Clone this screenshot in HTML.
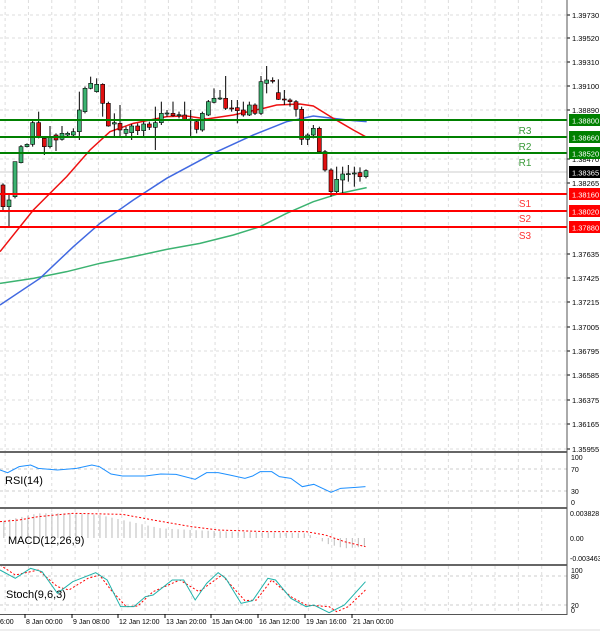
<!DOCTYPE html>
<html><head><meta charset="utf-8"><style>
html,body{margin:0;padding:0;background:#fff;}
svg{display:block;font-family:"Liberation Sans",sans-serif;}
</style></head><body>
<svg id="s" width="600" height="631" xmlns="http://www.w3.org/2000/svg"></svg>
<script>
const s=document.getElementById('s');let h='';
function L(x1,y1,x2,y2,c,w,d){h+=`<line x1="${x1}" y1="${y1}" x2="${x2}" y2="${y2}" stroke="${c}" stroke-width="${w||1}" ${d?`stroke-dasharray="${d}"`:''}/>`;}
function T(x,y,t,sz,c,a){h+=`<text x="${x}" y="${y}" font-size="${sz}" fill="${c||'#000'}" ${a?`text-anchor="${a}"`:''}>${t}</text>`;}
function P(pts,c,w,d){h+=`<polyline fill="none" points="${pts.map(p=>p.join(',')).join(' ')}" stroke="${c}" stroke-width="${w}" ${d?`stroke-dasharray="${d}"`:''}/>`;}
const R=567;
for(let x=541.7;x>0;x-=23.33){L(x,0,x,452,'#ddd',1,'3,3');L(x,453,x,507,'#ddd',1,'3,3');L(x,509,x,563,'#ddd',1,'3,3');L(x,566,x,614,'#ddd',1,'3,3');}
const pl=[["1.39730",15],["1.39520",38],["1.39310",62],["1.39100",86],["1.38890",110],["1.38470",159],["1.38265",183],["1.37635",254],["1.37425",278],["1.37215",302],["1.37005",327],["1.36795",351],["1.36585",375],["1.36375",400],["1.36165",424],["1.35955",449]];
pl.forEach(p=>{L(0,p[1],R,p[1],'#ddd',1,'3,3');L(R,p[1],R+3,p[1],'#000');T(572,p[1]+3,p[0],7.5);});
L(0,172,R,172,'#ccc',1);
const m=(a)=>a.map(p=>[p[0]/3,p[1]/3+50]);
P(m([[0,700],[100,685],[200,665],[300,640],[400,620],[500,598],[600,580],[700,555],[780,530],[860,490],[940,455],[1020,430],[1100,413]]),'#3cb371',1.5);
P(m([[0,765],[120,685],[220,590],[300,520],[400,450],[500,385],[640,310],[760,255],[860,215],[940,198],[1000,205],[1060,212],[1100,215]]),'#4169e1',1.5);
P(m([[0,605],[100,480],[200,380],[270,300],[330,245],[400,220],[500,200],[560,198],[620,207],[700,195],[790,175],[830,165],[900,162],[940,168],[1000,205],[1060,240],[1100,262]]),'#ee1111',1.5);
const cd=[[9,405,470,400,480],[27,470,450,430,528],[45,440,335,430,445],[63,338,290,285,340],[81,290,283,280,292],[98,283,218,212,290],[116,218,262,185,265],[133,265,290,260,315],[150,290,260,228,295],[168,255,270,250,303],[186,268,250,228,272],[203,255,250,245,262],[220,255,245,235,258],[238,245,180,125,270],[255,185,115,110,190],[272,115,100,80,118],[290,125,103,85,128],[308,103,160,100,200],[325,160,228,155,230],[343,222,218,190,260],[360,220,240,165,260],[378,250,238,230,258],[395,248,228,222,270],[413,228,242,220,255],[431,242,222,215,258],[448,222,232,215,240],[466,232,218,170,300],[484,218,190,155,225],[501,191,189,180,200],[519,190,197,155,200],[537,196,194,185,205],[554,195,208,155,212],[572,209,207,180,260],[590,215,238,210,250],[607,240,190,185,245],[625,195,155,150,198],[642,157,145,115,160],[660,146,144,120,150],[677,145,175,78,180],[695,174,176,150,185],[712,173,182,150,220],[730,180,195,155,200],[748,195,165,155,198],[765,165,190,160,195],[783,190,95,78,195],[800,100,90,48,130],[818,91,94,82,100],[835,128,148,88,150],[853,147,149,120,165],[870,150,155,145,170],[888,155,178,150,200],[905,178,268,170,285],[923,268,255,250,285],[940,255,235,225,265],[958,235,305,230,310],[975,305,360,300,365],[993,360,425,355,440],[1010,425,388,350,435],[1028,390,372,350,430],[1045,373,371,345,395],[1063,371,369,350,410],[1080,368,380,352,395],[1098,380,362,358,385]];
cd.forEach(c=>{const x=c[0]/3,o=c[1]/3+50,cl=c[2]/3+50,hi=c[3]/3+50,lo=c[4]/3+50;L(x,hi,x,lo,'#000',1);const t=Math.min(o,cl),b=Math.max(1,Math.abs(o-cl));h+=`<rect x="${x-2}" y="${t}" width="4" height="${b}" fill="${cl<o?'#3cb371':'#e01010'}" stroke="#000" stroke-width="0.6"/>`;});
[[120,'#008000','1.38800','R3',134],[137,'#008000','1.38660','R2',150],[153,'#008000','1.38520','R1',166],[194,'#ff0000','1.38160','S1',207],[211,'#ff0000','1.38020','S2',222],[227,'#ff0000','1.37880','S3',239]].forEach(l=>{L(0,l[0],R,l[0],l[1],2);h+=`<rect x="${R+2}" y="${l[0]-6}" width="31" height="12" fill="${l[1]}"/>`;T(572,l[0]+3.5,l[2],7.5,'#fff');T(525,l[4],l[3],10,l[1]=='#008000'?'#3a9a3a':'#ff3333','middle');});
h+=`<rect x="${R+2}" y="166" width="31" height="12" fill="#000"/>`;T(572,175.5,'1.38365',7.5,'#fff');
const x2=(a)=>a.map(p=>[p[0]/2.613,p[1]/3+450]);
[[469],[491]].forEach(v=>L(0,v[0],R,v[0],'#ccc',1,'3,3'));
[[457,'100'],[469,'70'],[491,'30'],[502,'0']].forEach(v=>T(571,v[0]+3,v[1],7));
T(5,484,'RSI(14)',11);
P(x2([[0,60],[20,68],[50,50],[80,45],[100,55],[150,60],[200,55],[240,45],[260,50],[290,72],[320,78],[380,78],[420,72],[460,73],[510,88],[540,68],[570,68],[600,75],[640,85],[660,78],[680,65],[710,65],[730,80],[760,85],[790,110],[820,103],[865,127],[890,115],[930,112],[955,110]]),'#1e90ff',1);
const hz=[[0,215],[100,190],[200,190],[260,195],[300,205],[340,215],[380,225],[420,235],[500,240],[600,245],[800,250],[830,265],[850,280],[900,295],[955,290]];
function interp(a,x){for(let i=1;i<a.length;i++){if(x<=a[i][0]){const t=(x-a[i-1][0])/(a[i][0]-a[i-1][0]);return a[i-1][1]+t*(a[i][1]-a[i-1][1]);}}return a[a.length-1][1];}
for(let zx=10;zx<=955;zx+=15.7){const y=interp(hz,zx)/3+450;L(zx/2.613,538,zx/2.613,y,'#bbb',1);}
P(x2([[0,215],[50,210],[100,200],[190,190],[320,193],[400,210],[500,230],[570,240],[700,245],[800,245],[850,255],[900,275],[955,290]]),'#ff0000',1,'2,2');
[[513,'0.003828'],[538,'0.00'],[558,'-0.003463']].forEach(v=>T(570,v[0]+3,v[1],7));
T(8,544,'MACD(12,26,9)',11);
[[576],[605]].forEach(v=>L(0,v[0],R,v[0],'#ccc',1,'3,3'));
[[570,'100'],[576,'80'],[605,'20'],[610,'0']].forEach(v=>T(571,v[0]+3,v[1],7));
P(x2([[0,345],[40,375],[100,360],[150,410],[180,420],[230,385],[260,375],[290,420],[330,470],[360,468],[400,425],[470,390],[520,425],[580,375],[640,452],[670,450],[710,390],[760,440],[800,465],[860,470],[880,485],[910,470],[955,420]]),'#ff0000',1,'2,2');
P(x2([[0,360],[40,385],[80,355],[110,365],[150,430],[190,395],[250,368],[280,390],[315,470],[350,470],[380,440],[400,435],[450,390],[480,390],[510,450],[540,400],[570,368],[590,385],[630,460],[660,452],[700,385],[720,390],[760,445],[800,470],[820,465],[860,488],[900,465],[955,395]]),'#20b2aa',1);
T(6,598,'Stoch(9,6,3)',11);
h+=`<rect x="0" y="451" width="${R}" height="2" fill="#666"/><rect x="0" y="507" width="${R}" height="2" fill="#666"/><rect x="0" y="564" width="${R}" height="2" fill="#666"/>`;
L(0,614.5,R,614.5,'#555',1);
L(R,0,R,615,'#555',1);
[[0,'6:00'],[26,'8 Jan 00:00'],[73,'9 Jan 08:00'],[119,'12 Jan 12:00'],[166,'13 Jan 20:00'],[212,'15 Jan 04:00'],[259,'16 Jan 12:00'],[306,'19 Jan 16:00'],[353,'21 Jan 00:00']].forEach(t=>{T(t[0],624,t[1],7);if(t[0]>0)L(t[0]-1,614,t[0]-1,618,'#000');});
h+=`<rect x="0" y="629" width="600" height="2" fill="#eee"/>`;
s.innerHTML=h;
</script>
</body></html>
